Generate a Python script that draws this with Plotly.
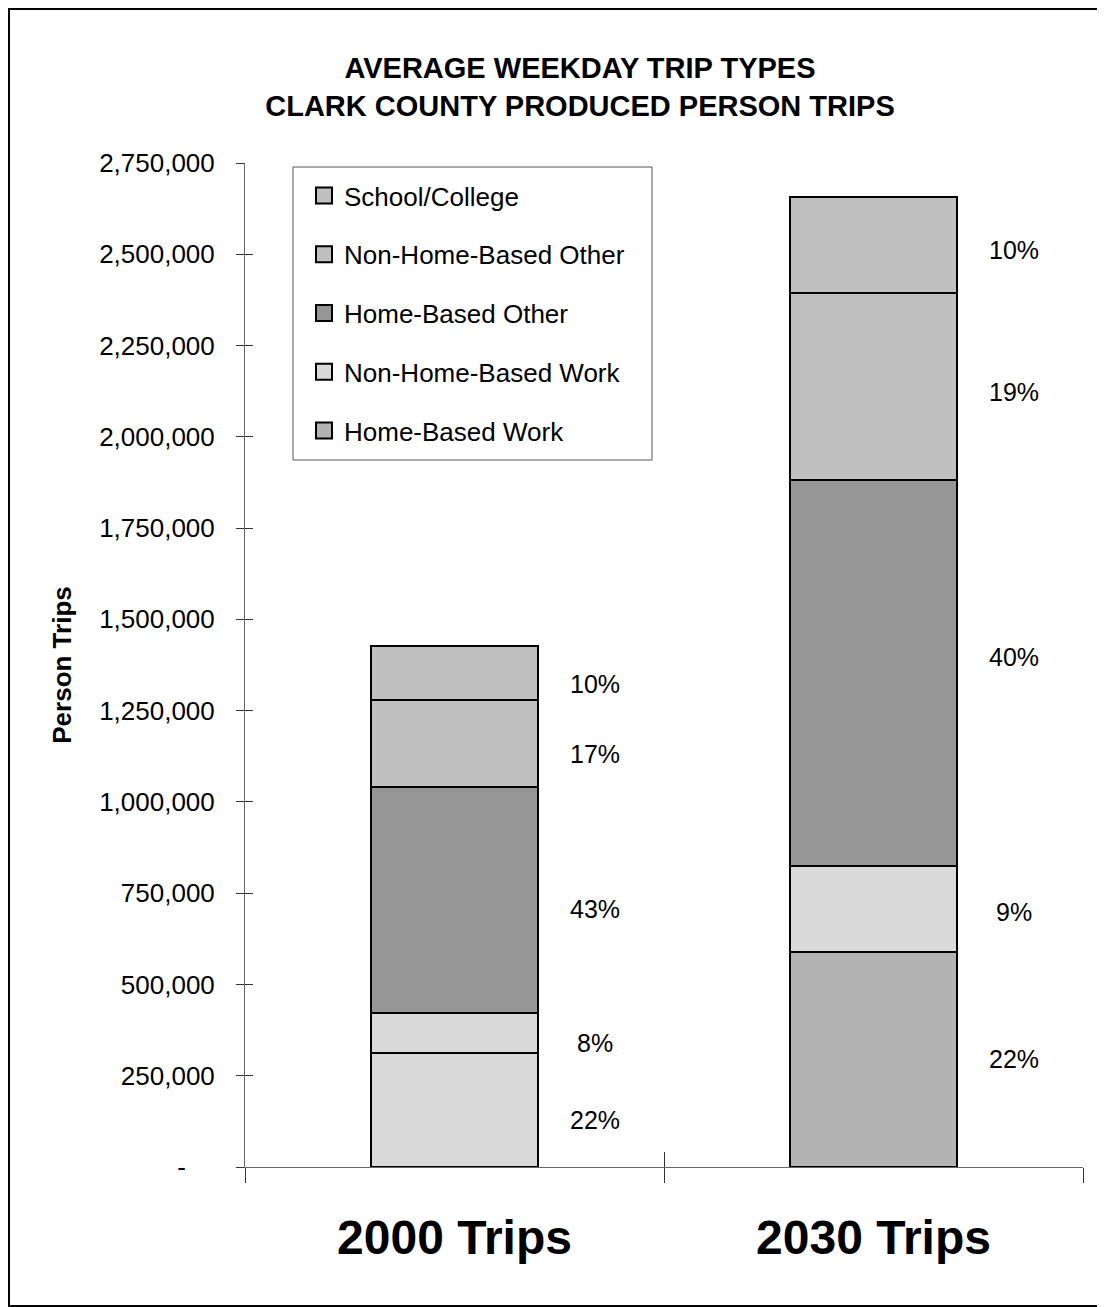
import plotly.graph_objects as go

# ---- data ----
categories = ["2000 Trips", "2030 Trips"]
series_names = ["Home-Based Work", "Non-Home-Based Work", "Home-Based Other",
                "Non-Home-Based Other", "School/College"]
home_based_work = [312000, 589000]
non_home_based_work = [110000, 235000]
home_based_other = [618000, 1057000]
non_home_based_other = [238000, 512000]
school_college = [149000, 263000]

y_tickvals = [0, 250000, 500000, 750000, 1000000, 1250000, 1500000,
              1750000, 2000000, 2250000, 2500000, 2750000]
y_ticktext = ["-\u00a0\u00a0\u00a0\u00a0", "250,000", "500,000", "750,000", "1,000,000",
              "1,250,000", "1,500,000", "1,750,000", "2,000,000", "2,250,000",
              "2,500,000", "2,750,000"]

# ---- styles ----
FONT = "Arial, 'Liberation Sans', sans-serif"
bar_colors = [
    ["#d9d9d9", "#b3b3b3"],   # HBW (per bar)
    ["#dadada", "#dadada"],   # NHBW
    ["#969696", "#969696"],   # HBO
    ["#c0c0c0", "#c0c0c0"],   # NHBO
    ["#c0c0c0", "#c0c0c0"],   # School
]
legend_colors = ["#b3b3b3", "#dadada", "#969696", "#c0c0c0", "#c0c0c0"]
# small vertical nudges (px) for the percentage labels, per series per bar
label_yshift = [[-10, 0], [-10, -3], [-9, 16], [-10, -5], [-11, -5]]

series_values = [home_based_work, non_home_based_work, home_based_other,
                 non_home_based_other, school_college]

# page has an 8px body margin; figure sits at (8, 8)
OFF = 8
W, H = 1105 - OFF, 1307 - OFF
ML, MR, MT, MB = 245 - OFF, 22, 163 - OFF, 140
pw, ph = W - ML - MR, H - MT - MB

fig = go.Figure()
for i, (name, vals) in enumerate(zip(series_names, series_values)):
    fig.add_trace(go.Bar(
        x=categories, y=vals, name=name, width=0.4,
        marker=dict(color=bar_colors[i], line=dict(color="#000000", width=2)),
        showlegend=False,
    ))
# legend entries, top to bottom: School/College ... Home-Based Work
for i in reversed(range(len(series_names))):
    fig.add_trace(go.Scatter(
        x=[None], y=[None], name=series_names[i], mode="markers",
        marker=dict(symbol="square", size=16, color=legend_colors[i],
                    line=dict(color="#000000", width=2)),
        showlegend=True, legendgroup=series_names[i], hoverinfo="skip",
    ))
# helper trace for the overlay axes (inner half of the crossing ticks)
fig.add_trace(go.Scatter(x=categories, y=[None, None], xaxis="x2", yaxis="y2",
                         showlegend=False, hoverinfo="skip", mode="markers"))

# percentage labels
totals = [sum(v[j] for v in series_values) for j in range(len(categories))]
annotations = []
for j in range(len(categories)):
    base = 0
    for i, vals in enumerate(series_values):
        mid = base + vals[j] / 2
        base += vals[j]
        pct = round(100 * vals[j] / totals[j])
        annotations.append(dict(
            x=j + 0.335, y=mid, xref="x", yref="y", text=f"{pct}%",
            showarrow=False, xanchor="center", yanchor="middle",
            yshift=label_yshift[i][j],
            font=dict(family=FONT, size=25, color="#000000")))

def px_to_paper_x(px):   # px in page coordinates
    return (px - OFF - ML) / pw

def px_to_paper_y(py):
    return (H - MB - (py - OFF)) / ph

shapes = [
    # outer chart frame
    dict(type="rect", xref="paper", yref="paper",
         x0=px_to_paper_x(OFF + 1), x1=px_to_paper_x(1104),
         y0=px_to_paper_y(1306), y1=px_to_paper_y(OFF + 1),
         line=dict(color="#000000", width=2), fillcolor="rgba(0,0,0,0)", layer="above"),
    # legend frame
    dict(type="rect", xref="paper", yref="paper",
         x0=px_to_paper_x(293), x1=px_to_paper_x(652),
         y0=px_to_paper_y(460), y1=px_to_paper_y(167),
         line=dict(color="#555555", width=1), fillcolor="rgba(0,0,0,0)", layer="above"),
]

fig.update_layout(
    width=W, height=H,
    margin=dict(l=ML, r=MR, t=MT, b=MB, autoexpand=False),
    paper_bgcolor="#ffffff", plot_bgcolor="#ffffff",
    barmode="stack",
    font=dict(family=FONT, size=26, color="#000000"),
    title=dict(
        text="<b>AVERAGE WEEKDAY TRIP TYPES<br>CLARK COUNTY PRODUCED PERSON TRIPS</b>",
        x=(580 - OFF) / W, xanchor="center", xref="container",
        y=1 - 70 / H, yanchor="top", yref="container",
        font=dict(family=FONT, size=29, color="#000000")),
    xaxis=dict(type="category", categoryorder="array", categoryarray=categories,
               range=[-0.5, 1.5], tickson="boundaries",
               ticks="outside", ticklen=15, tickwidth=1, tickcolor="#333333",
               showline=True, linecolor="#666666", linewidth=1,
               showgrid=False, zeroline=False,
               tickfont=dict(family=FONT, size=48, color="#000000", weight="bold"),
               ticklabelstandoff=28, fixedrange=True),
    yaxis=dict(range=[0, 2750000], tickvals=y_tickvals, ticktext=y_ticktext,
               ticks="outside", ticklen=8, tickwidth=1, tickcolor="#333333",
               showline=True, linecolor="#666666", linewidth=1,
               showgrid=False, zeroline=False,
               tickfont=dict(family=FONT, size=26, color="#000000"),
               ticklabelstandoff=16,
               title=dict(text="<b>Person Trips</b>", standoff=20,
                          font=dict(family=FONT, size=26, color="#000000")),
               fixedrange=True),
    xaxis2=dict(type="category", categoryorder="array", categoryarray=categories,
                range=[-0.5, 1.5], tickson="boundaries", overlaying="x", anchor="y2",
                ticks="inside", ticklen=15, tickwidth=1, tickcolor="#333333",
                showticklabels=False, showline=False, showgrid=False, zeroline=False,
                side="bottom", fixedrange=True),
    yaxis2=dict(range=[0, 2750000], tickvals=y_tickvals, overlaying="y", anchor="x2",
                side="left", ticks="inside", ticklen=8, tickwidth=1, tickcolor="#333333",
                showticklabels=False, showline=False, showgrid=False, zeroline=False,
                fixedrange=True),
    legend=dict(x=px_to_paper_x(304), y=px_to_paper_y(172), xanchor="left", yanchor="top",
                traceorder="grouped", tracegroupgap=22,
                bgcolor="rgba(0,0,0,0)", borderwidth=0, itemsizing="trace",
                font=dict(family=FONT, size=26, color="#000000")),
    annotations=annotations,
    shapes=shapes,
    bargap=0.6,
)

fig.write_html("out.html")
